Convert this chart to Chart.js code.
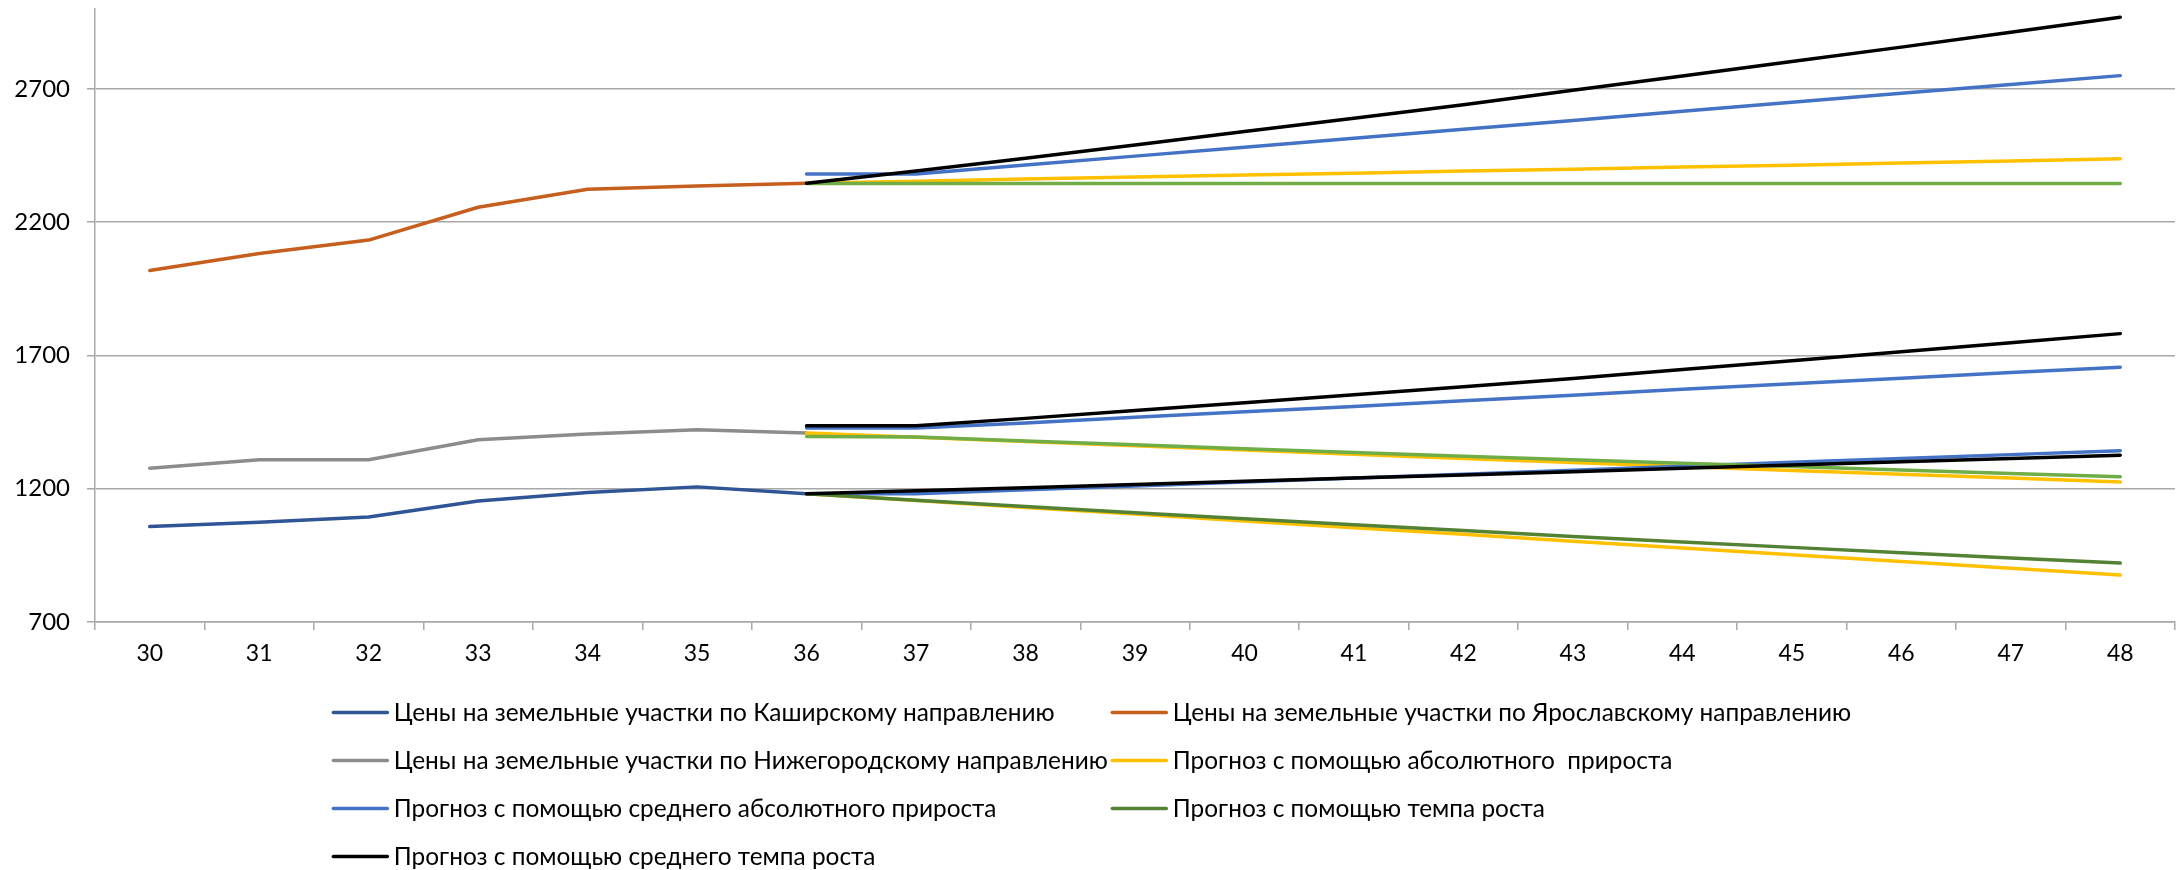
<!DOCTYPE html>
<html>
<head>
<meta charset="utf-8">
<script src="https://cdn.jsdelivr.net/npm/chart.js@4.4.1/dist/chart.umd.min.js"></script>
<style>
html,body{margin:0;padding:0;background:#ffffff;}
#wrap{width:2183px;height:870px;position:relative;}
</style>
</head>
<body>
<div id="wrap"><canvas id="c" width="2183" height="870"></canvas></div>
<script>
// ---- Data ----
const categories = ['30','31','32','33','34','35','36','37','38','39','40','41','42','43','44','45','46','47','48'];
const yTicks = [700, 1200, 1700, 2200, 2700];

// Actual prices, categories 30..36
const kashirPrices   = [1058, 1074, 1094, 1154, 1186, 1207, 1181];
const yaroslavPrices = [2019, 2083, 2133, 2256, 2324, 2336, 2346];
const nizhPrices     = [1277, 1309, 1309, 1384, 1405, 1421, 1409];

// Forecasts, categories 36..48
const absKashir  = [1181, 1156, 1130, 1105, 1079, 1054, 1029, 1003, 978, 952, 927, 902, 876];
const absYar     = [2346, 2354, 2362, 2370, 2377, 2384, 2392, 2399, 2407, 2414, 2422, 2430, 2438];
const absNizh    = [1409, 1393, 1377, 1361, 1345, 1329, 1313, 1298, 1283, 1268, 1254, 1240, 1225];

const avgAbsKashir = [1181, 1181, 1196, 1210, 1225, 1240, 1254, 1269, 1284, 1299, 1313, 1328, 1343];
const avgAbsYar    = [2381, 2381, 2415, 2448, 2481, 2515, 2549, 2582, 2616, 2650, 2684, 2717, 2750];
const avgAbsNizh   = [1428, 1428, 1447, 1468, 1489, 1509, 1530, 1551, 1573, 1594, 1615, 1636, 1656];

const rateKashir = [1181, 1157, 1133, 1110, 1087, 1065, 1043, 1021, 1000, 980, 960, 940, 921];
const rateYar    = [2345, 2345, 2345, 2345, 2345, 2345, 2345, 2345, 2345, 2345, 2345, 2345, 2345];
const rateNizh   = [1396, 1394, 1379, 1365, 1350, 1336, 1322, 1309, 1296, 1283, 1270, 1257, 1245];

const avgRateKashir = [1181, 1192, 1204, 1216, 1228, 1240, 1252, 1264, 1277, 1289, 1301, 1313, 1326];
const avgRateYar    = [2346, 2392, 2440, 2490, 2540, 2590, 2641, 2695, 2749, 2803, 2857, 2913, 2969];
const avgRateNizh   = [1436, 1436, 1464, 1494, 1523, 1553, 1583, 1614, 1647, 1680, 1714, 1748, 1782];

const seriesNames = [
  'Цены на земельные участки по Каширскому направлению',
  'Цены на земельные участки по Ярославскому направлению',
  'Цены на земельные участки по Нижегородскому направлению',
  'Прогноз с помощью абсолютного  прироста',
  'Прогноз с помощью среднего абсолютного прироста',
  'Прогноз с помощью темпа роста',
  'Прогноз с помощью среднего темпа роста'
];

// ---- Styles ----
const C_KASHIR = '#2F5597';
const C_YAR = '#C65E1E';
const C_NIZH = '#8C8C8C';
const C_ABS = '#FFC000';
const C_AVGABS = '#4472C4';
const C_RATE_LIGHT = '#70AD47';
const C_RATE_DARK = '#548235';
const C_AVGRATE = '#000000';
const GRID = '#A8A8A8';
const LW = 3.5;

const N = categories.length;
const actual = arr => arr.concat(Array(N - arr.length).fill(null));
const forecast = arr => Array(N - arr.length).fill(null).concat(arr);

const specs = [
  [actual(kashirPrices), C_KASHIR, 0],
  [actual(yaroslavPrices), C_YAR, 1],
  [actual(nizhPrices), C_NIZH, 2],
  [forecast(absKashir), C_ABS, 3],
  [forecast(absYar), C_ABS, 3],
  [forecast(absNizh), C_ABS, 3],
  [forecast(avgAbsKashir), C_AVGABS, 4],
  [forecast(avgAbsYar), C_AVGABS, 4],
  [forecast(avgAbsNizh), C_AVGABS, 4],
  [forecast(rateKashir), C_RATE_DARK, 5],
  [forecast(rateYar), C_RATE_LIGHT, 5],
  [forecast(rateNizh), C_RATE_LIGHT, 5],
  [forecast(avgRateKashir), C_AVGRATE, 6],
  [forecast(avgRateYar), C_AVGRATE, 6],
  [forecast(avgRateNizh), C_AVGRATE, 6]
];

const datasets = specs.map((s, i) => ({
  label: seriesNames[s[2]],
  data: s[0],
  borderColor: s[1],
  backgroundColor: s[1],
  borderWidth: LW,
  pointRadius: 0,
  pointHoverRadius: 0,
  tension: 0,
  fill: false,
  spanGaps: false,
  borderCapStyle: 'round',
  borderJoinStyle: 'round',
  order: 100 - i
}));

const legendEntries = [
  [seriesNames[0], C_KASHIR], [seriesNames[1], C_YAR],
  [seriesNames[2], C_NIZH], [seriesNames[3], C_ABS],
  [seriesNames[4], C_AVGABS], [seriesNames[5], C_RATE_DARK],
  [seriesNames[6], C_AVGRATE]
];

const gridLegend = {
  id: 'gridLegend',
  afterDraw(chart) {
    const ctx = chart.ctx;
    ctx.save();
    ctx.font = '100px Lato';
    const ref = ctx.measureText(legendEntries[0][0]).width;
    const size = 100 * 661 / ref;
    ctx.font = size + 'px Lato';
    const lineLen = 57, gap = 5, colGap = 3;
    const w1 = Math.max(...[0, 2, 4, 6].map(i => ctx.measureText(legendEntries[i][0]).width));
    const w2 = Math.max(...[1, 3, 5].map(i => ctx.measureText(legendEntries[i][0]).width));
    const total = lineLen + gap + w1 + colGap + lineLen + gap + w2;
    const x0 = (chart.width - total) / 2;
    const x1 = x0 + lineLen + gap + w1 + colGap;
    const rowY = [712.5, 760.5, 808.5, 856.5];
    ctx.textBaseline = 'middle';
    ctx.textAlign = 'left';
    legendEntries.forEach((e, i) => {
      const row = Math.floor(i / 2);
      const x = (i % 2 === 0) ? x0 : x1;
      const y = rowY[row];
      ctx.strokeStyle = e[1];
      ctx.lineWidth = LW;
      ctx.lineCap = 'round';
      ctx.beginPath();
      ctx.moveTo(x + 1.5, y);
      ctx.lineTo(x + lineLen - 1.5, y);
      ctx.stroke();
      ctx.fillStyle = '#000000';
      ctx.fillText(e[0], x + lineLen + gap, y + 1);
    });
    ctx.restore();
  }
};

new Chart(document.getElementById('c'), {
  type: 'line',
  data: { labels: categories, datasets: datasets },
  options: {
    responsive: false,
    animation: false,
    devicePixelRatio: 1,
    layout: { padding: { top: 9, right: 8, left: 0, bottom: 0 } },
    plugins: { legend: { display: false }, tooltip: { enabled: false } },
    scales: {
      x: {
        type: 'category',
        offset: true,
        grid: { display: true, offset: true, drawOnChartArea: false, drawTicks: true, tickLength: 8, color: GRID, lineWidth: 1.5 },
        border: { display: true, color: GRID, width: 1.5 },
        ticks: { color: '#000000', font: { family: 'Lato', size: 23 }, padding: 10, maxRotation: 0, autoSkip: false },
        afterFit: s => { s.height = 248; s.paddingLeft = 0; s.paddingRight = 0; }
      },
      y: {
        min: 700,
        max: 3000,
        afterBuildTicks: s => { s.ticks = yTicks.map(v => ({ value: v })); },
        grid: { display: true, drawTicks: true, tickLength: 8, color: GRID, lineWidth: 1.5 },
        border: { display: true, color: GRID, width: 1.5 },
        ticks: { color: '#000000', font: { family: 'Lato', size: 24 }, padding: 17, callback: v => String(v) },
        afterFit: s => { s.width = 95; s.paddingTop = 0; s.paddingBottom = 0; }
      }
    }
  },
  plugins: [gridLegend]
});
</script>
</body>
</html>
